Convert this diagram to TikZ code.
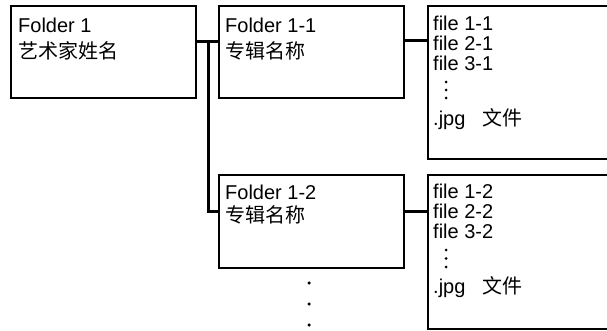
\documentclass[tikz,border=0pt]{standalone}
\usepackage{fontspec}
\setmainfont{Liberation Sans}
\newfontfamily\cjk{Noto Sans CJK SC}
\usetikzlibrary{positioning}

\begin{document}
\begin{tikzpicture}[
        x=1pt, y=-1pt,
        folder/.style={
            rectangle,
            draw=black,
            line width=2pt,
            anchor=north west,
            inner sep=0pt,
            minimum width=185pt,
            minimum height=92pt
        },
        filebox/.style={
            folder,
            minimum width=200pt,
            minimum height=153pt
        },
        txt/.style={
            anchor=base west,
            align=left,
            inner sep=0pt,
            font=\fontsize{20}{26}\selectfont
        },
        ftxt/.style={
            txt,
            font=\fontsize{20}{20}\selectfont
        },
        link/.style={
            line width=3pt
        },
        dot/.style={
            circle,
            fill=black,
            inner sep=0pt,
            minimum size=3pt
        }
    ]
        \useasboundingbox (0,0) rectangle (607,331);
        \clip (0,0) rectangle (607,331);

        % Nodes
        \node[folder] (artist) at (10,5) {};
        \node[folder] (album1) at (218,5) {};
        \node[folder, minimum height=93pt] (album2) at (218,174) {};
        \node[filebox] (files1) at (427,5) {};
        \node[filebox, minimum height=154pt] (files2) at (427,174) {};

        % texts (base = last line)
        \node[txt] (artisttxt) at (18,59) {Folder 1\\{\cjk 艺术家姓名}};
        \node[txt] (album1txt) at (225,59) {Folder 1-1\\{\cjk 专辑名称}};
        \node[txt] (album2txt) at (225,222) {Folder 1-2\\[-3pt]{\cjk 专辑名称}};
        \node[ftxt] (files1txt) at (433,71) {file 1-1\\file 2-1\\file 3-1};
        \node[ftxt] (jpg1txt) at (433,126) {.jpg\hspace{11pt} {\cjk 文件}};
        \node[ftxt] (files2txt) at (433,238) {file 1-2\\file 2-2\\file 3-2};
        \node[ftxt] (jpg2txt) at (433,293) {.jpg\hspace{11pt} {\cjk 文件}};

        \foreach \i/\y in {1/82, 2/90, 3/98} {
            \node[dot] (vdotA\i) at (446,\y) {};
        }
        \foreach \i/\y in {1/250, 2/258.5, 3/267} {
            \node[dot] (vdotB\i) at (446,\y) {};
        }
        \foreach \i/\y in {1/283, 2/304, 3/325} {
            \node[dot, minimum size=3.5pt] (more\i) at (309,\y) {};
        }

        % Paths
        \coordinate (branch) at ([xshift=11.5pt, yshift=10pt]artist.east);
        \draw[link] ([yshift=10pt]artist.east) -- ([yshift=10pt]album1.west);
        \draw[link] (branch) |- ([yshift=10pt]album2.west);
        \draw[link] ([yshift=11pt]album1.east) -- ([yshift=11pt]album1.east -| files1.west);
        \draw[link] ([yshift=10pt]album2.east) -- ([yshift=10pt]album2.east -| files2.west);
    \end{tikzpicture}
\end{document}
